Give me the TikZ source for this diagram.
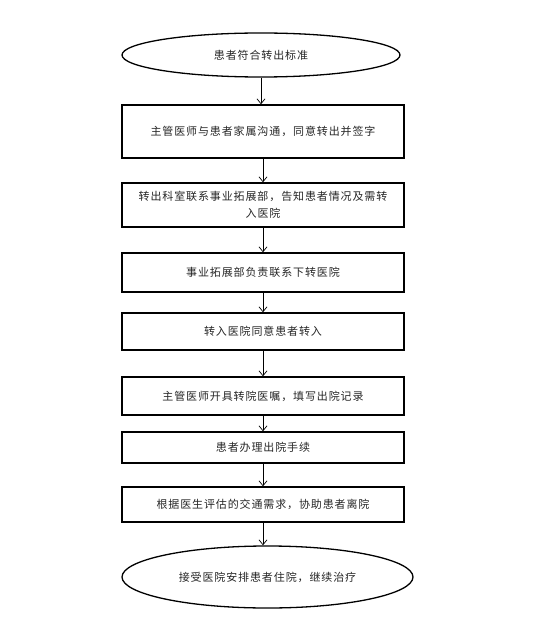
\documentclass[tikz,border=0pt]{standalone}
\usepackage{fontspec}
\newfontfamily\cjk[LetterSpace=8]{Noto Sans CJK SC}
\usetikzlibrary{arrows.meta,shapes.geometric}
\tikzset{
  stepbox/.style={draw=black,line width=1.3pt,rectangle,minimum width=282pt,inner sep=2pt,align=center},
  endell/.style={draw=black,line width=1.3pt,ellipse,inner sep=0pt},
  flow/.style={draw=black,line width=0.7pt,-{Straight Barb[length=5pt,width=8pt]}},
  every node/.style={font=\cjk\fontsize{11}{17}\selectfont,text=black!85}
}
\begin{document}
\begin{tikzpicture}[x=1pt,y=1pt]
\useasboundingbox[fill=white] (0,0) rectangle (538,-631);
\node[endell,minimum width=278pt,minimum height=44pt] (e1) at (261,-55) {患者符合转出标准};
\node[stepbox,minimum height=53pt] (b2) at (263,-131.5) {主管医师与患者家属沟通，同意转出并签字};
\node[stepbox,minimum height=44pt] (b3) at (263,-205) {转出科室联系事业拓展部，告知患者情况及需转\\入医院};
\node[stepbox,minimum height=39pt] (b4) at (263,-272.5) {事业拓展部负责联系下转医院};
\node[stepbox,minimum height=37pt] (b5) at (263,-331.5) {转入医院同意患者转入};
\node[stepbox,minimum height=38pt] (b6) at (263,-396) {主管医师开具转院医嘱，填写出院记录};
\node[stepbox,minimum height=31pt] (b7) at (263,-447.5) {患者办理出院手续};
\node[stepbox,minimum height=35pt] (b8) at (263,-504.5) {根据医生评估的交通需求，协助患者离院};
\node[endell,minimum width=291pt,minimum height=62pt] (e2) at (267.5,-577) {接受医院安排患者住院，继续治疗};
\draw[flow] (e1.south) -- (e1.south |- b2.north);
\draw[flow] (b2) -- (b3);
\draw[flow] (b3) -- (b4);
\draw[flow] (b4) -- (b5);
\draw[flow] (b5) -- (b6);
\draw[flow] (b6) -- (b7);
\draw[flow] (b7) -- (b8);
\draw[flow] (b8.south) -- (b8.south |- e2.north);
\end{tikzpicture}
\end{document}
